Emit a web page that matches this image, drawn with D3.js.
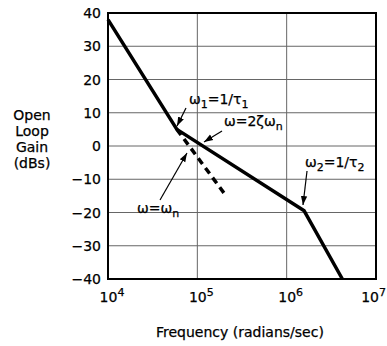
<!DOCTYPE html>
<html>
<head>
<meta charset="utf-8">
<script src="https://cdn.jsdelivr.net/npm/d3@7"></script>
<style>
  body { margin: 0; background: #fff; }
  text { font-family: "DejaVu Sans", sans-serif; fill: #000; stroke: #000; stroke-width: 0.25; }
</style>
</head>
<body>
<div id="chart"></div>
<script>
// values
var xTicks = [1e4, 1e5, 1e6, 1e7];
var yTicks = [-40, -30, -20, -10, 0, 10, 20, 30, 40];
var gainLine = [
  {f: 1e4, db: 38},
  {f: 5.9e4, db: 5},
  {f: 1.57e6, db: -19.5},
  {f: 4.2e6, db: -40}
];
var resonanceLine = [
  {f: 5.9e4, db: 5},
  {f: 2.1e5, db: -15}
];
var yTitle = ["Open", "Loop", "Gain", "(dBs)"];
var xTitle = "Frequency (radians/sec)";

var margin = {top: 13, right: 11, bottom: 67, left: 108},
    width = 387 - margin.left - margin.right,
    height = 346 - margin.top - margin.bottom;

var svg = d3.select("#chart")
  .append("svg")
    .attr("width", 387)
    .attr("height", 346)
  .append("g")
    .attr("transform", "translate(" + margin.left + "," + margin.top + ")");

var x = d3.scaleLog().domain([1e4, 1e7]).range([0, width]);
var y = d3.scaleLinear().domain([-40, 40]).range([height, 0]);

// grid
svg.append("g").selectAll("line.h")
  .data(yTicks.slice(1, -1))
  .enter().append("line")
    .attr("x1", 0).attr("x2", width)
    .attr("y1", function(d) { return y(d); })
    .attr("y2", function(d) { return y(d); })
    .attr("stroke", "#666").attr("stroke-width", 1);
svg.append("g").selectAll("line.v")
  .data(xTicks.slice(1, -1))
  .enter().append("line")
    .attr("y1", 0).attr("y2", height)
    .attr("x1", function(d) { return x(d); })
    .attr("x2", function(d) { return x(d); })
    .attr("stroke", "#666").attr("stroke-width", 1);

// frame
svg.append("rect")
  .attr("width", width).attr("height", height)
  .attr("fill", "none").attr("stroke", "#000").attr("stroke-width", 2);

// y tick labels
svg.append("g").selectAll("text")
  .data(yTicks)
  .enter().append("text")
    .attr("x", -7)
    .attr("y", function(d) { return y(d) + 5; })
    .attr("text-anchor", "end")
    .attr("font-size", 14)
    .text(function(d) { return d < 0 ? "\u2212" + (-d) : d; });

// x tick labels with superscript (last one kept inside the page)
var xl = svg.append("g").selectAll("text")
  .data(xTicks)
  .enter().append("text")
    .attr("x", function(d, i) { return i == xTicks.length - 1 ? width + margin.right - 1 : x(d) + 4; })
    .attr("y", height + 23)
    .attr("text-anchor", function(d, i) { return i == xTicks.length - 1 ? "end" : "middle"; })
    .attr("font-size", 14);
xl.append("tspan").text("10");
xl.append("tspan")
  .attr("dy", -6).attr("font-size", 11)
  .text(function(d) { return Math.round(Math.log10(d)); });

// titles
svg.append("text")
  .attr("x", x(1e5 * 3.16) - 2)
  .attr("y", height + 58)
  .attr("text-anchor", "middle")
  .attr("font-size", 14)
  .text(xTitle);

svg.append("g").selectAll("text")
  .data(yTitle)
  .enter().append("text")
    .attr("x", 32 - margin.left)
    .attr("y", function(d, i) { return 107 + i * 16; })
    .attr("text-anchor", "middle")
    .attr("font-size", 14)
    .text(function(d) { return d; });

var line = d3.line()
  .x(function(d) { return x(d.f); })
  .y(function(d) { return y(d.db); });

svg.append("path")
  .datum(resonanceLine)
  .attr("fill", "none").attr("stroke", "#000")
  .attr("stroke-width", 3.5)
  .attr("stroke-dasharray", "7,5")
  .attr("d", line);

svg.append("path")
  .datum(gainLine)
  .attr("fill", "none").attr("stroke", "#000")
  .attr("stroke-width", 3.5)
  .attr("stroke-linejoin", "round")
  .attr("d", line);

// annotations
var defs = svg.append("defs");
defs.append("marker")
  .attr("id", "arr")
  .attr("viewBox", "0 0 10 10")
  .attr("refX", 10).attr("refY", 5)
  .attr("markerWidth", 9).attr("markerHeight", 9)
  .attr("markerUnits", "userSpaceOnUse")
  .attr("orient", "auto")
  .append("path").attr("d", "M0,1.5L10,5L0,8.5z").attr("fill", "#000");

function arrow(x1, y1, x2, y2) {
  svg.append("line")
    .attr("x1", x1 - margin.left).attr("y1", y1 - margin.top)
    .attr("x2", x2 - margin.left).attr("y2", y2 - margin.top)
    .attr("stroke", "#000").attr("stroke-width", 1.2)
    .attr("marker-end", "url(#arr)");
}

function label(px, py, parts) {
  var t = svg.append("text")
    .attr("x", px - margin.left).attr("y", py - margin.top)
    .attr("font-size", 14);
  parts.forEach(function(p) {
    var s = t.append("tspan").text(p[0]);
    if (p[1]) s.attr("dy", p[1]);
    if (p[2]) s.attr("font-size", p[2]);
  });
}

label(189, 104, [["\u03c9"], ["1", 4, 11], ["=1/\u03c4", -4], ["1", 4, 11]]);
arrow(186, 108, 177, 126);

label(224, 126, [["\u03c9=2\u03b6\u03c9"], ["n", 4, 11]]);
arrow(222, 131, 204, 142);

label(137, 213, [["\u03c9=\u03c9"], ["n", 4, 11]]);
arrow(160, 200, 187, 153);

label(305, 167, [["\u03c9"], ["2", 4, 11], ["=1/\u03c4", -4], ["2", 4, 11]]);
arrow(307, 171, 303, 205);
</script>
</body>
</html>
